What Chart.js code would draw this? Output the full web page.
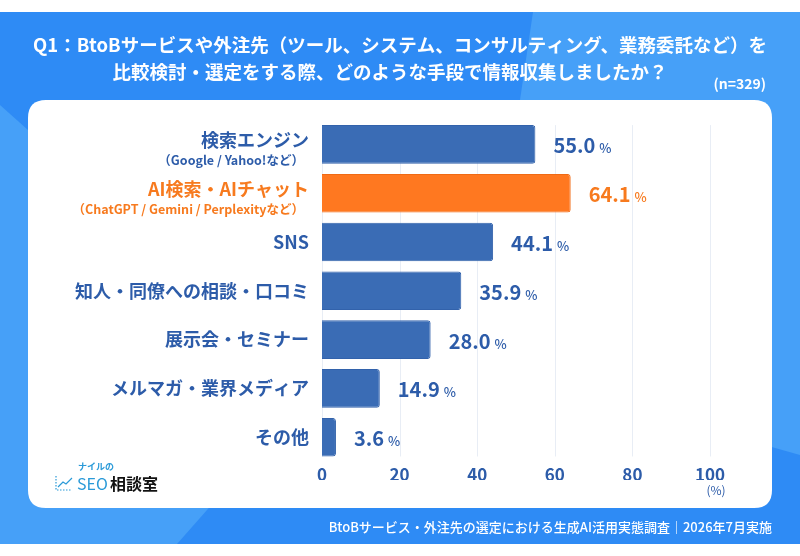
<!DOCTYPE html>
<html><head><meta charset="utf-8">
<script src="https://cdn.jsdelivr.net/npm/chart.js@4.4.1/dist/chart.umd.min.js"></script>
<style>html,body{margin:0;padding:0;background:#fff;}canvas{display:block;}</style>
</head><body>
<canvas id="c" width="800" height="556"></canvas>
<script>
const categories = ["検索エンジン","AI検索・AIチャット","SNS","知人・同僚への相談・口コミ","展示会・セミナー","メルマガ・業界メディア","その他"];
const subLabels = ["（Google / Yahoo!など）","（ChatGPT / Gemini / Perplexityなど）","","","","",""];
const values = [55.0, 64.1, 44.1, 35.9, 28.0, 14.9, 3.6];
const xTicks = [0, 20, 40, 60, 80, 100];
const highlightIndex = 1;

const FONT = '"Noto Sans CJK JP","Noto Sans",sans-serif';
const BLUE_BAR = '#3a6cb5', ORANGE_BAR = '#ff7820';
const BLUE_TXT = '#2d5ca9', ORANGE_TXT = '#f77a1e';

function rr(ctx,x,y,w,h,r){ctx.beginPath();ctx.moveTo(x+r,y);ctx.lineTo(x+w-r,y);ctx.quadraticCurveTo(x+w,y,x+w,y+r);ctx.lineTo(x+w,y+h-r);ctx.quadraticCurveTo(x+w,y+h,x+w-r,y+h);ctx.lineTo(x+r,y+h);ctx.quadraticCurveTo(x,y+h,x,y+h-r);ctx.lineTo(x,y+r);ctx.quadraticCurveTo(x,y,x+r,y);ctx.closePath();}

const bgPlugin = {
  id:'bg',
  beforeDraw(chart){
    const ctx = chart.ctx; ctx.save();
    ctx.fillStyle='#ffffff'; ctx.fillRect(0,0,800,556);
    ctx.fillStyle='#2e8bf5'; ctx.fillRect(0,12,800,532);
    ctx.fillStyle='#46a0f8';
    ctx.beginPath(); ctx.moveTo(533,12); ctx.lineTo(800,12); ctx.lineTo(800,455); ctx.lineTo(481,365); ctx.lineTo(520,100); ctx.closePath(); ctx.fill();
    ctx.beginPath(); ctx.moveTo(0,105); ctx.lineTo(28,130); ctx.lineTo(260,450); ctx.lineTo(177,544); ctx.lineTo(0,544); ctx.closePath(); ctx.fill();
    // card
    ctx.fillStyle='#ffffff'; rr(ctx,28,100,744,408,18); ctx.fill();
    // title
    ctx.fillStyle='#ffffff'; ctx.textAlign='center'; ctx.textBaseline='middle';
    ctx.font='bold 18.5px '+FONT;
    ctx.fillText('Q1：BtoBサービスや外注先（ツール、システム、コンサルティング、業務委託など）を',400,45);
    ctx.fillText('比較検討・選定をする際、どのような手段で情報収集しましたか？',390,72);
    ctx.font='bold 14px '+FONT; ctx.textAlign='right';
    ctx.fillText('(n=329)',766,84);
    // footer
    ctx.font='500 13px '+FONT; ctx.textAlign='right';
    ctx.fillText('BtoBサービス・外注先の選定における生成AI活用実態調査｜2026年7月実施',772,527);
    // logo
    ctx.textAlign='left';
    ctx.fillStyle='#2a9ad8'; ctx.font='bold 9px '+FONT; ctx.fillText('ナイルの',78,467);
    ctx.strokeStyle='#2a9ad8'; ctx.lineWidth=1.2;
    ctx.setLineDash([1.5,1.5]); ctx.beginPath(); ctx.moveTo(56,476); ctx.lineTo(56,490); ctx.lineTo(72,490); ctx.stroke();
    ctx.setLineDash([]); ctx.beginPath(); ctx.moveTo(58,487); ctx.lineTo(63,482); ctx.lineTo(66,484); ctx.lineTo(72,478); ctx.stroke();
    ctx.font='400 16px '+FONT; ctx.fillStyle='#2a9ad8'; ctx.fillText('SEO',77,484);
    ctx.font='bold 16px '+FONT; ctx.fillStyle='#111111'; ctx.fillText('相談室',110,484);
    ctx.restore();
  },
  beforeDatasetsDraw(chart){
    const ctx=chart.ctx, xs=chart.scales.x;
    const meta=chart.getDatasetMeta(0);
    const first=meta.data[0], last=meta.data[meta.data.length-1];
    const top=first.y-first.height/2, bottom=last.y+last.height/2;
    ctx.save(); ctx.strokeStyle='#e8edf5'; ctx.lineWidth=1;
    xTicks.forEach(v=>{const x=Math.round(xs.getPixelForValue(v))+0.5; ctx.beginPath(); ctx.moveTo(x,top); ctx.lineTo(x,bottom); ctx.stroke();});
    ctx.restore();
  },
  afterDatasetsDraw(chart){
    const ctx=chart.ctx, ys=chart.scales.y, xs=chart.scales.x;
    const meta=chart.getDatasetMeta(0);
    ctx.save();
    categories.forEach((c,i)=>{
      const y=ys.getPixelForValue(i);
      const col = i===highlightIndex?ORANGE_TXT:BLUE_TXT;
      ctx.fillStyle=col; ctx.textAlign='right'; ctx.textBaseline='middle';
      ctx.font='bold 18px '+FONT;
      if(subLabels[i]){
        ctx.fillText(c,309,y-4);
        ctx.font='bold 12.5px '+FONT;
        ctx.fillText(subLabels[i],304,y+16);
      } else {
        ctx.fillText(c,309,y);
      }
      // value labels
      const bar=meta.data[i];
      const x0=bar.x+18;
      ctx.textAlign='left'; ctx.textBaseline='alphabetic';
      ctx.font='bold 20px '+FONT;
      const s=values[i].toFixed(1);
      ctx.fillText(s,x0,y+9);
      const w=ctx.measureText(s).width;
      ctx.font='500 13px '+FONT;
      ctx.fillText('%',x0+w+4,y+9);
    });
    ctx.fillStyle=BLUE_TXT; ctx.font='12px '+FONT; ctx.textAlign='center'; ctx.textBaseline='middle';
    ctx.fillText('(%)',xs.getPixelForValue(100)+6,490);
    ctx.restore();
  }
};

new Chart(document.getElementById('c'),{
  type:'bar',
  data:{labels:categories,datasets:[{data:values,
    backgroundColor:values.map((v,i)=>i===highlightIndex?ORANGE_BAR:BLUE_BAR),
    borderColor:values.map((v,i)=>i===highlightIndex?'#f06a14':'#3262ab'),
    borderWidth:1,borderRadius:3,borderSkipped:'start',
    barPercentage:0.79,categoryPercentage:1}]},
  options:{
    indexAxis:'y',responsive:false,animation:false,devicePixelRatio:1,
    layout:{padding:{left:314,right:90,top:120,bottom:76}},
    plugins:{legend:{display:false},tooltip:{enabled:false}},
    scales:{
      x:{min:0,max:100,afterBuildTicks(s){s.ticks=xTicks.map(v=>({value:v}));},
        grid:{display:false},border:{display:false},
        ticks:{color:BLUE_TXT,font:{family:FONT,size:17,weight:'bold'},padding:-5,maxRotation:0}},
      y:{grid:{display:false},border:{display:false},ticks:{display:false}}
    }
  },
  plugins:[bgPlugin]
});
</script>
</body></html>
